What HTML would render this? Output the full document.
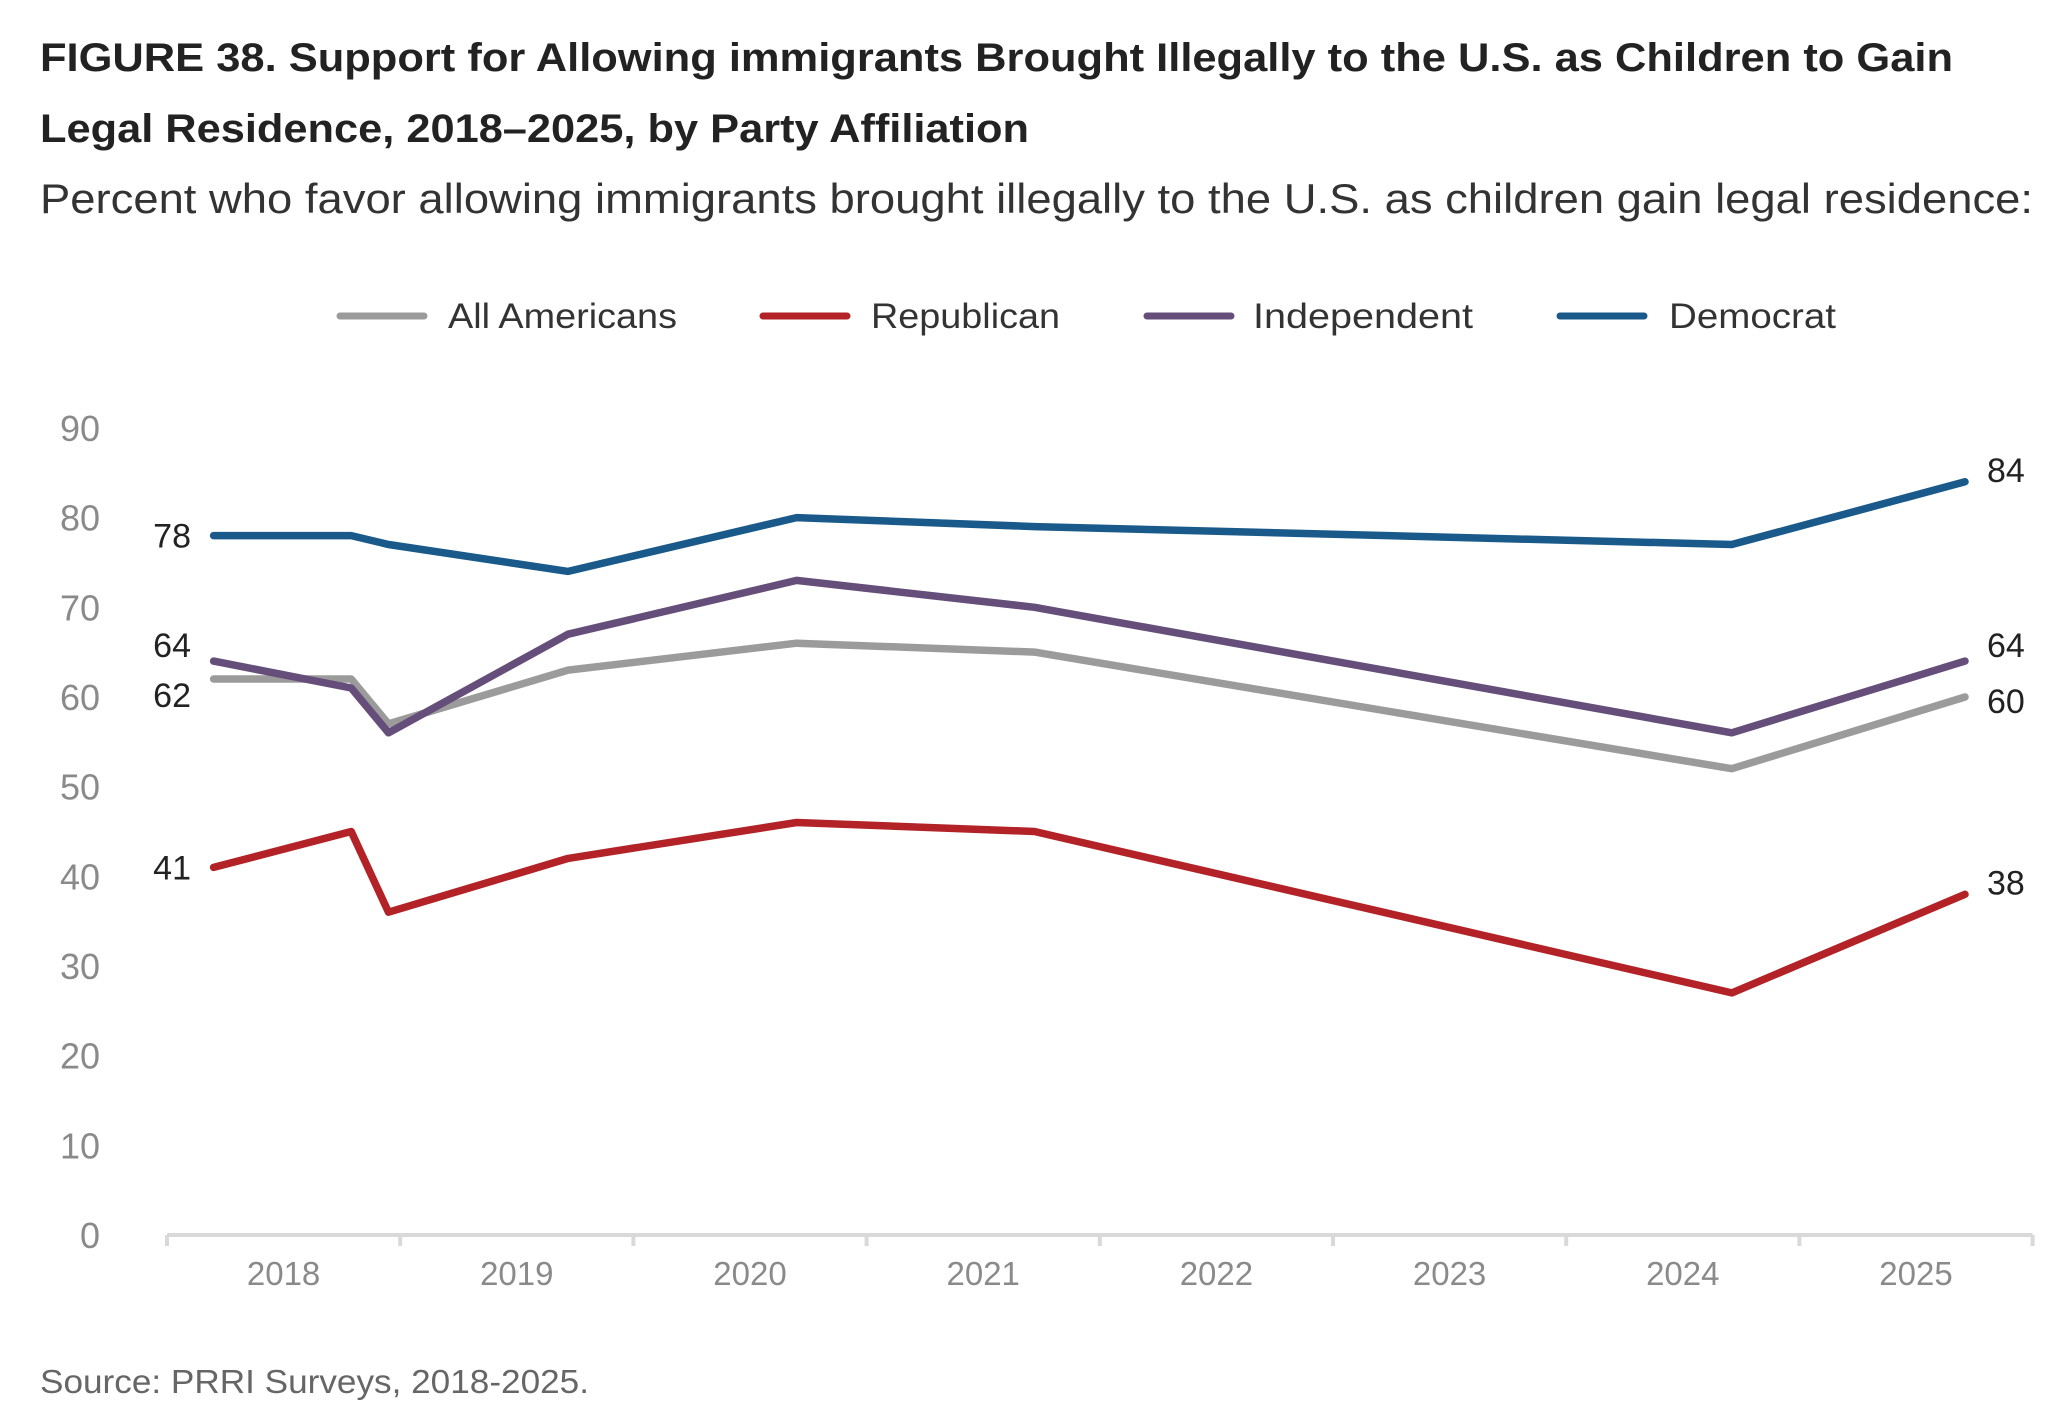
<!DOCTYPE html>
<html><head><meta charset="utf-8"><style>
html,body{margin:0;padding:0;background:#fff;}
svg{display:block;font-family:"Liberation Sans",sans-serif;}
</style></head><body>
<svg id="chart" width="2064" height="1414" viewBox="0 0 2064 1414" xmlns="http://www.w3.org/2000/svg">
<text x="40" y="71" font-size="40" font-weight="bold" fill="#222" textLength="1913" lengthAdjust="spacingAndGlyphs">FIGURE 38.  Support for Allowing immigrants Brought Illegally to the U.S. as Children to Gain</text>
<text x="40" y="142" font-size="40" font-weight="bold" fill="#222" textLength="989" lengthAdjust="spacingAndGlyphs">Legal Residence, 2018–2025, by Party Affiliation</text>
<text x="40" y="213" font-size="42" fill="#333" textLength="1993" lengthAdjust="spacingAndGlyphs">Percent who favor allowing immigrants brought illegally to the U.S. as children gain legal residence:</text>
<g id="legend"></g>
<g id="axes"></g>
<g id="series"></g>
<text x="40" y="1393" font-size="33" fill="#666" textLength="549" lengthAdjust="spacingAndGlyphs">Source: PRRI Surveys, 2018-2025.</text>
</svg>
<script>
const times = [2018.2, 2018.79, 2018.95, 2019.72, 2020.7, 2021.72, 2024.71, 2025.71];
const allAmericans = [62, 62, 57, 63, 66, 65, 52, 60];
const republican = [41, 45, 36, 42, 46, 45, 27, 38];
const independent = [64, 61, 56, 67, 73, 70, 56, 64];
const democrat = [78, 78, 77, 74, 80, 79, 77, 84];
const yTicks = [0, 10, 20, 30, 40, 50, 60, 70, 80, 90];
const years = [2018, 2019, 2020, 2021, 2022, 2023, 2024, 2025];

const NS = "http://www.w3.org/2000/svg";
const X0 = 167, BAND = 233.2, Y0 = 1235, YPER = 8.967;
const xScale = t => X0 + (t - 2018) * BAND;
const yScale = v => Y0 - v * YPER;
function mk(tag, attrs, parent, txt) {
  const e = document.createElementNS(NS, tag);
  for (const k in attrs) e.setAttribute(k, attrs[k]);
  if (txt !== undefined) e.textContent = txt;
  parent.appendChild(e);
  return e;
}
const axes = document.getElementById('axes');
yTicks.forEach(v => {
  const t = mk('text', {x: 100, y: yScale(v) + 13, 'font-size': 36, fill: '#8a8a8a', 'text-anchor': 'end'}, axes, String(v));
  
  
});
const axisLine = mk('line', {x1: X0, x2: xScale(2026), y1: Y0, y2: Y0, stroke: '#d9d9d9', 'stroke-width': 4}, axes);


for (let i = 0; i <= years.length; i++) {
  const x = xScale(2018 + i);
  const tk = mk('line', {x1: x, x2: x, y1: Y0, y2: Y0 + 11, stroke: '#d9d9d9', 'stroke-width': 4}, axes);
  
  
}
years.forEach(y => {
  const t = mk('text', {x: xScale(y + 0.5), y: 1285, 'font-size': 33, fill: '#8a8a8a', 'text-anchor': 'middle'}, axes, String(y));
  
  
});

const seriesDefs = [
  {name: 'all-americans', label: 'All Americans', vals: allAmericans, color: '#9b9b9b', lx: 340, tx: 448, tw: 229},
  {name: 'republican', label: 'Republican', vals: republican, color: '#b22226', lx: 763, tx: 871, tw: 189},
  {name: 'independent', label: 'Independent', vals: independent, color: '#654e7a', lx: 1147, tx: 1253, tw: 220},
  {name: 'democrat', label: 'Democrat', vals: democrat, color: '#1a5a8a', lx: 1560, tx: 1669, tw: 167}
];
const legend = document.getElementById('legend');
const series = document.getElementById('series');
seriesDefs.forEach(s => {
  const ll = mk('line', {x1: s.lx, x2: s.lx + 84, y1: 316, y2: 316, stroke: s.color, 'stroke-width': 7, 'stroke-linecap': 'round'}, legend);
  
  
  const lt = mk('text', {x: s.tx, y: 328, 'font-size': 35, fill: '#333', textLength: s.tw, lengthAdjust: 'spacingAndGlyphs'}, legend, s.label);
  
  
});
[0, 2, 1, 3].forEach(i => {
  const s = seriesDefs[i];
  const pts = s.vals.map((v, j) => xScale(times[j]).toFixed(1) + ',' + yScale(v).toFixed(1)).join(' ');
  const pl = mk('polyline', {points: pts, fill: 'none', stroke: s.color, 'stroke-width': 7.5, 'stroke-linejoin': 'round', 'stroke-linecap': 'round'}, series);
  
  
});
const startOff = {'all-americans': 28, 'republican': 12, 'independent': -4, 'democrat': 12};
const endOff = {'all-americans': 16, 'republican': 0, 'independent': -4, 'democrat': 0};
seriesDefs.forEach(s => {
  const v0 = s.vals[0], vN = s.vals[s.vals.length - 1];
  const a = mk('text', {x: 191, y: yScale(v0) + startOff[s.name], 'font-size': 34, fill: '#222', 'text-anchor': 'end'}, series, String(v0));
  
  
  const b = mk('text', {x: 1987, y: yScale(vN) + endOff[s.name], 'font-size': 34, fill: '#222'}, series, String(vN));
  
  
});
</script>
</body></html>
